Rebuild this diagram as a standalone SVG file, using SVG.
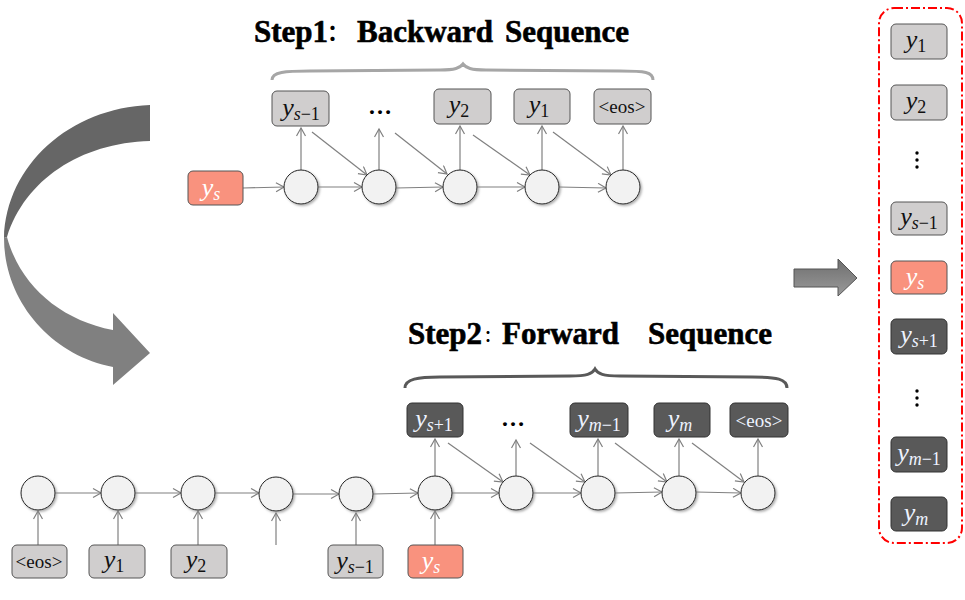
<svg xmlns="http://www.w3.org/2000/svg" width="965" height="600" viewBox="0 0 965 600">
<style>
.title{font-family:"Liberation Serif","Noto Sans CJK SC",serif;font-weight:bold;font-size:31px;fill:#000;stroke:#000;stroke-width:0.6}
.colon{font-family:"Noto Sans CJK SC",sans-serif;font-weight:bold;fill:#000}
.lb{fill:#d0cece;stroke:#555;stroke-width:1}
.rb{fill:#f9927e;stroke:#555;stroke-width:1}
.db{fill:#595959;stroke:#333;stroke-width:1}
.cir{fill:#f2f2f2;stroke:#222;stroke-width:1;filter:url(#sh)}
.m{font-family:"Liberation Serif",serif;font-style:italic;font-size:26px;text-anchor:middle}
.s{font-size:18px}
.n{font-style:normal;font-size:18px}
.eos{font-family:"Liberation Serif",serif;font-size:19px;text-anchor:middle}
.k{fill:#111}
.w{fill:#fff}
.wd{fill:#eef3ff}
.dots{font-family:"Liberation Serif",serif;font-size:24px;font-weight:bold;text-anchor:middle;fill:#000}
.con line{stroke:#808080;stroke-width:1.2;marker-end:url(#ah)}
</style>
<defs>
<marker id="ah" markerUnits="userSpaceOnUse" markerWidth="12" markerHeight="12" refX="9" refY="5" orient="auto">
<path d="M1,0.5 L9,5 L1,9.5" fill="none" stroke="#808080" stroke-width="1.2"/>
</marker>
<filter id="sh" x="-30%" y="-30%" width="160%" height="160%">
<feDropShadow dx="1.5" dy="1.5" stdDeviation="1" flood-color="#888" flood-opacity="0.7"/>
</filter>
<linearGradient id="ga" x1="0" y1="0" x2="0" y2="1">
<stop offset="0" stop-color="#6e6e6e"/><stop offset="1" stop-color="#9a9a9a"/>
</linearGradient>
</defs>

<!-- titles -->
<g id="title1">
<text class="title" x="254" y="42" font-size="29">Step1</text>
<text class="colon" x="327" y="40" font-size="22">：</text>
<text class="title" x="357" y="42">Backward</text>
<text class="title" x="505" y="42">Sequence</text>
</g>
<g id="title2">
<text class="title" x="408" y="344" font-size="28">Step2</text>
<text class="colon" x="484" y="342" font-size="16">：</text>
<text class="title" x="502" y="344">Forward</text>
<text class="title" x="648" y="344">Sequence</text>
</g>

<!-- braces -->
<path d="M272,80 C272,72 285,71 310,71 L440,70 C455,70 460,68 463,64 C466,68 471,70 486,70 L620,71 C645,71 653,72 653,80" fill="none" stroke="#a6a6a6" stroke-width="3"/>
<path d="M405,388 C405,379 418,377 440,377 L570,376 C587,376 592,374 595,369 C598,374 603,376 620,376 L752,377 C777,377 787,379 787,388" fill="none" stroke="#595959" stroke-width="3"/>

<!-- curved arrow -->
<g id="curved-arrow">
<path d="M150,105 C70,108 6,165 4,238 L7,237 C25,180 80,143 150,141 Z" fill="#666"/>
<path d="M4,238 C4,300 50,355 113,367 L113,385 L150,353 L113,313 L113,330 C60,320 20,285 7,237 Z" fill="#808080"/>
</g>

<!-- right arrow -->
<g id="right-arrow">
<path d="M794,269 L838,269 L838,259 L857,278 L838,296 L838,287 L794,287 Z" fill="url(#ga)" stroke="#555" stroke-width="1"/>
</g>

<!-- connectors -->
<g id="connectors" class="con">
<line x1="243" y1="188" x2="284" y2="187"/>
<line x1="318" y1="187" x2="362" y2="187"/>
<line x1="396" y1="188" x2="443" y2="187"/>
<line x1="477" y1="187" x2="525" y2="187"/>
<line x1="559" y1="187" x2="606" y2="188"/>
<line x1="301" y1="170" x2="301" y2="128"/>
<line x1="379" y1="170" x2="379" y2="129"/>
<line x1="460" y1="170" x2="460" y2="126"/>
<line x1="542" y1="170" x2="542" y2="126"/>
<line x1="623" y1="170" x2="623" y2="126"/>
<line x1="312" y1="132" x2="367" y2="175"/>
<line x1="395" y1="133" x2="447" y2="174"/>
<line x1="473" y1="135" x2="530" y2="175"/>
<line x1="553" y1="132" x2="611" y2="175"/>

<line x1="55" y1="493" x2="101" y2="493"/>
<line x1="135" y1="493" x2="181" y2="493"/>
<line x1="215" y1="493" x2="259" y2="493"/>
<line x1="293" y1="494" x2="339" y2="494"/>
<line x1="373" y1="494" x2="418" y2="493"/>
<line x1="452" y1="493" x2="499" y2="493"/>
<line x1="533" y1="493" x2="581" y2="493"/>
<line x1="615" y1="493" x2="662" y2="492"/>
<line x1="696" y1="492" x2="741" y2="493"/>
<line x1="435" y1="476" x2="435" y2="439"/>
<line x1="516" y1="476" x2="516" y2="440"/>
<line x1="598" y1="476" x2="598" y2="439"/>
<line x1="679" y1="476" x2="679" y2="439"/>
<line x1="758" y1="476" x2="758" y2="439"/>
<line x1="448" y1="443" x2="503" y2="482"/>
<line x1="530" y1="443" x2="585" y2="482"/>
<line x1="615" y1="443" x2="667" y2="482"/>
<line x1="692" y1="443" x2="744" y2="482"/>
<line x1="38" y1="545" x2="38" y2="511"/>
<line x1="118" y1="545" x2="118" y2="511"/>
<line x1="198" y1="545" x2="198" y2="511"/>
<line x1="276" y1="545" x2="276" y2="513"/>
<line x1="356" y1="545" x2="356" y2="513"/>
<line x1="435" y1="545" x2="435" y2="511"/>
</g>

<!-- top circles -->
<g id="tc1"><circle class="cir" cx="301" cy="187" r="17"/></g>
<g id="tc2"><circle class="cir" cx="379" cy="187" r="17"/></g>
<g id="tc3"><circle class="cir" cx="460" cy="187" r="17"/></g>
<g id="tc4"><circle class="cir" cx="542" cy="187" r="17"/></g>
<g id="tc5"><circle class="cir" cx="623" cy="187" r="17"/></g>

<!-- bottom circles -->
<g id="bc1"><circle class="cir" cx="38" cy="493" r="17"/></g>
<g id="bc2"><circle class="cir" cx="118" cy="493" r="17"/></g>
<g id="bc3"><circle class="cir" cx="198" cy="493" r="17"/></g>
<g id="bc4"><circle class="cir" cx="276" cy="494" r="17"/></g>
<g id="bc5"><circle class="cir" cx="356" cy="494" r="17"/></g>
<g id="bc6"><circle class="cir" cx="435" cy="493" r="17"/></g>
<g id="bc7"><circle class="cir" cx="516" cy="493" r="17"/></g>
<g id="bc8"><circle class="cir" cx="598" cy="493" r="17"/></g>
<g id="bc9"><circle class="cir" cx="679" cy="493" r="17"/></g>
<g id="bc10"><circle class="cir" cx="758" cy="493" r="17"/></g>

<!-- top row boxes -->
<g id="t-ys"><rect class="rb" x="188" y="171" width="55" height="34" rx="5"/><text class="m w" x="211" y="196">y<tspan class="s" dy="4">s</tspan></text></g>
<g id="t-ysm1"><rect class="lb" x="272" y="91" width="57" height="35" rx="5"/><text class="m k" x="301" y="116">y<tspan class="s" dy="4">s</tspan><tspan class="n">−1</tspan></text></g>
<g id="t-dots"><text class="dots" x="380" y="114">…</text></g>
<g id="t-y2"><rect class="lb" x="434" y="89" width="57" height="35" rx="5"/><text class="m k" x="459" y="113">y<tspan class="n" dy="4">2</tspan></text></g>
<g id="t-y1"><rect class="lb" x="514" y="89" width="56" height="35" rx="5"/><text class="m k" x="539" y="113">y<tspan class="n" dy="4">1</tspan></text></g>
<g id="t-eos"><rect class="lb" x="594" y="89" width="57" height="35" rx="5"/><text class="eos k" x="622" y="113">&lt;eos&gt;</text></g>

<!-- forward output boxes -->
<g id="f-ysp1"><rect class="db" x="407" y="403" width="56" height="34" rx="5"/><text class="m wd" x="434" y="427">y<tspan class="s" dy="4">s</tspan><tspan class="n">+1</tspan></text></g>
<g id="f-dots"><text class="dots" x="513" y="426">…</text></g>
<g id="f-ymm1"><rect class="db" x="570" y="403" width="58" height="34" rx="5"/><text class="m wd" x="599" y="427">y<tspan class="s" dy="4">m</tspan><tspan class="n">−1</tspan></text></g>
<g id="f-ym"><rect class="db" x="654" y="403" width="56" height="34" rx="5"/><text class="m wd" x="680" y="427">y<tspan class="s" dy="4">m</tspan></text></g>
<g id="f-eos"><rect class="db" x="730" y="403" width="58" height="34" rx="5"/><text class="eos wd" x="759" y="427">&lt;eos&gt;</text></g>

<!-- forward input boxes -->
<g id="i-eos"><rect class="lb" x="12" y="545" width="55" height="33" rx="5"/><text class="eos k" x="39" y="568">&lt;eos&gt;</text></g>
<g id="i-y1"><rect class="lb" x="89" y="545" width="56" height="33" rx="5"/><text class="m k" x="114" y="568">y<tspan class="n" dy="4">1</tspan></text></g>
<g id="i-y2"><rect class="lb" x="171" y="545" width="56" height="33" rx="5"/><text class="m k" x="196" y="568">y<tspan class="n" dy="4">2</tspan></text></g>
<g id="i-ysm1"><rect class="lb" x="328" y="545" width="55" height="33" rx="5"/><text class="m k" x="355" y="569">y<tspan class="s" dy="4">s</tspan><tspan class="n">−1</tspan></text></g>
<g id="i-ys"><rect class="rb" x="408" y="545" width="55" height="33" rx="5"/><text class="m w" x="431" y="569">y<tspan class="s" dy="4">s</tspan></text></g>

<!-- result column -->
<g id="result">
<rect x="879" y="8" width="83" height="535" rx="15" fill="none" stroke="#ff0000" stroke-width="2" stroke-dasharray="9,3,2,3"/>
</g>
<g id="r-y1"><rect class="lb" x="891" y="24" width="56" height="35" rx="5"/><text class="m k" x="916" y="48">y<tspan class="n" dy="4">1</tspan></text></g>
<g id="r-y2"><rect class="lb" x="891" y="85" width="56" height="35" rx="5"/><text class="m k" x="916" y="109">y<tspan class="n" dy="4">2</tspan></text></g>
<g id="r-dots1"><circle cx="917" cy="153" r="1.7"/><circle cx="917" cy="160" r="1.7"/><circle cx="917" cy="167" r="1.7"/></g>
<g id="r-ysm1"><rect class="lb" x="891" y="202" width="56" height="33" rx="5"/><text class="m k" x="919" y="225">y<tspan class="s" dy="4">s</tspan><tspan class="n">−1</tspan></text></g>
<g id="r-ys"><rect class="rb" x="891" y="261" width="56" height="33" rx="5"/><text class="m w" x="915" y="285">y<tspan class="s" dy="4">s</tspan></text></g>
<g id="r-ysp1"><rect class="db" x="891" y="319" width="56" height="35" rx="5"/><text class="m wd" x="919" y="343">y<tspan class="s" dy="4">s</tspan><tspan class="n">+1</tspan></text></g>
<g id="r-dots2"><circle cx="917" cy="391" r="1.7"/><circle cx="917" cy="398" r="1.7"/><circle cx="917" cy="405" r="1.7"/></g>
<g id="r-ymm1"><rect class="db" x="891" y="437" width="56" height="35" rx="5"/><text class="m wd" x="919" y="461">y<tspan class="s" dy="4">m</tspan><tspan class="n">−1</tspan></text></g>
<g id="r-ym"><rect class="db" x="891" y="497" width="56" height="34" rx="5"/><text class="m wd" x="916" y="521">y<tspan class="s" dy="4">m</tspan></text></g>
</svg>
